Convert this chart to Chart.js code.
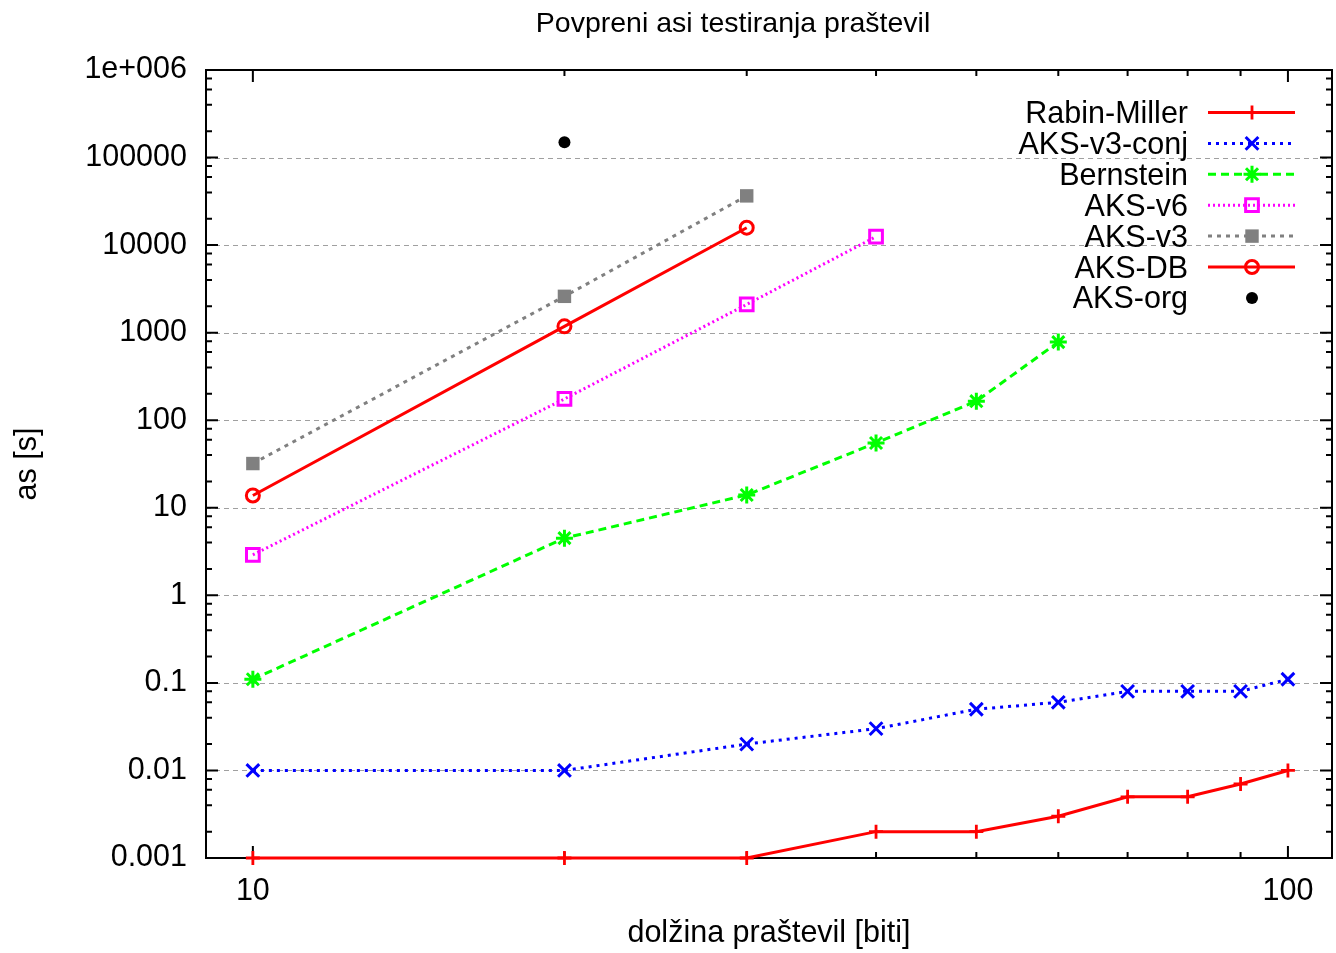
<!DOCTYPE html>
<html><head><meta charset="utf-8">
<script src="https://cdn.jsdelivr.net/npm/chart.js@4/dist/chart.umd.min.js"></script>
<style>html,body{margin:0;padding:0;background:#fff}#wrap{width:1336px;height:953px}</style>
</head><body><div id="wrap"><canvas id="c" width="1336" height="953"></canvas></div>
<script>
const chartTitle = 'Povpreni asi testiranja praštevil';
const xTitle = 'dolžina praštevil [biti]';
const yTitle = 'as [s]';

const bits = [10, 20, 30, 40, 50, 60, 70, 80, 90, 100];
const seriesNames = ['Rabin-Miller', 'AKS-v3-conj', 'Bernstein', 'AKS-v6', 'AKS-v3', 'AKS-DB', 'AKS-org'];
const rabinMiller = [0.001, 0.001, 0.001, 0.002, 0.002, 0.003, 0.005, 0.005, 0.007, 0.01];
const aksV3Conj  = [0.01, 0.01, 0.02, 0.03, 0.05, 0.06, 0.08, 0.08, 0.08, 0.11];
const bernstein  = [0.11, 4.5, 14, 55, 165, 780];
const aksV6      = [2.9, 175, 2100, 12500];
const aksV3      = [32, 2600, 36500];
const aksDB      = [13.8, 1180, 15800];
const aksOrgBits = [20];
const aksOrg     = [150000];

const xTickValues = [10, 100];
const xTickLabels = ['10', '100'];
const xMinorTicks = [20, 30, 40, 50, 60, 70, 80, 90];
const yTickValues = [0.001, 0.01, 0.1, 1, 10, 100, 1000, 10000, 100000, 1000000];
const yTickLabels = ['0.001', '0.01', '0.1', '1', '10', '100', '1000', '10000', '100000', '1e+006'];
const yMinorFactors = [2, 4, 6, 8];

const FONT = '"Liberation Sans", Arial, sans-serif';
const FS = 30.5;

function pts(xs, ys) { return ys.map((v, i) => ({x: xs[i], y: v})); }

const datasets = [
  {label: seriesNames[0], data: pts(bits, rabinMiller), borderColor: '#ff0000', backgroundColor: '#ff0000',
   borderWidth: 3, pointStyle: 'cross', pointRadius: 7, pointBorderWidth: 2.8, borderDash: []},
  {label: seriesNames[1], data: pts(bits, aksV3Conj), borderColor: '#0000ff', backgroundColor: '#0000ff',
   borderWidth: 3, pointStyle: 'crossRot', pointRadius: 9, pointBorderWidth: 3, borderDash: [3, 5]},
  {label: seriesNames[2], data: pts(bits, bernstein), borderColor: '#00ff00', backgroundColor: '#00ff00',
   borderWidth: 3, pointStyle: 'star', pointRadius: 8.5, pointBorderWidth: 3, borderDash: [8, 5]},
  {label: seriesNames[3], data: pts(bits, aksV6), borderColor: '#ff00ff', backgroundColor: 'rgba(0,0,0,0)',
   borderWidth: 3, pointStyle: 'rect', pointRadius: 9, pointBorderWidth: 3, borderDash: [2, 3]},
  {label: seriesNames[4], data: pts(bits, aksV3), borderColor: '#808080', backgroundColor: '#808080',
   borderWidth: 3, pointStyle: 'rect', pointRadius: 9.5, pointBorderWidth: 0, borderDash: [4, 5]},
  {label: seriesNames[5], data: pts(bits, aksDB), borderColor: '#ff0000', backgroundColor: 'rgba(0,0,0,0)',
   borderWidth: 3, pointStyle: 'circle', pointRadius: 6.5, pointBorderWidth: 3, borderDash: []},
  {label: seriesNames[6], data: pts(aksOrgBits, aksOrg), borderColor: '#000000', backgroundColor: '#000000',
   borderWidth: 3, pointStyle: 'circle', pointRadius: 6, pointBorderWidth: 0, showLine: false, borderDash: []}
];
datasets.forEach(d => { d.fill = false; d.clip = false; d.tension = 0;
  if (d.showLine === undefined) d.showLine = true;
  d.pointBorderColor = d.borderColor; d.pointBackgroundColor = d.backgroundColor; });

function drawMarker(ctx, ds, x, y) {
  ctx.save();
  ctx.setLineDash([]);
  ctx.strokeStyle = ds.pointBorderColor;
  ctx.fillStyle = ds.pointBackgroundColor;
  ctx.lineWidth = ds.pointBorderWidth;
  Chart.helpers.drawPoint(ctx, {pointStyle: ds.pointStyle, radius: ds.pointRadius, rotation: 0, borderWidth: ds.pointBorderWidth}, x, y);
  ctx.restore();
}

const gnuFrame = {
  id: 'gnuFrame',
  beforeDatasetsDraw(chart) {
    const ctx = chart.ctx, a = chart.chartArea;
    const xs = chart.scales.x, ys = chart.scales.y;
    ctx.save();
    ctx.strokeStyle = '#a0a0a0'; ctx.lineWidth = 1; ctx.setLineDash([5, 4]);
    yTickValues.forEach(v => {
      const y = Math.round(ys.getPixelForValue(v)) + 0.5;
      if (y <= a.top + 1 || y >= a.bottom - 1) return;
      ctx.beginPath(); ctx.moveTo(a.left, y); ctx.lineTo(a.right, y); ctx.stroke();
    });
    ctx.setLineDash([]);
    ctx.strokeStyle = '#000'; ctx.lineWidth = 2;
    yTickValues.forEach((v, i) => {
      const y = ys.getPixelForValue(v);
      ctx.beginPath(); ctx.moveTo(a.left, y); ctx.lineTo(a.left + 12, y);
      ctx.moveTo(a.right, y); ctx.lineTo(a.right - 12, y); ctx.stroke();
      if (i < yTickValues.length - 1) {
        yMinorFactors.forEach(f => {
          const ym = ys.getPixelForValue(v * f);
          ctx.beginPath(); ctx.moveTo(a.left, ym); ctx.lineTo(a.left + 6, ym);
          ctx.moveTo(a.right, ym); ctx.lineTo(a.right - 6, ym); ctx.stroke();
        });
      }
    });
    xTickValues.forEach(v => {
      const x = xs.getPixelForValue(v);
      ctx.beginPath(); ctx.moveTo(x, a.bottom); ctx.lineTo(x, a.bottom - 12);
      ctx.moveTo(x, a.top); ctx.lineTo(x, a.top + 12); ctx.stroke();
    });
    xMinorTicks.forEach(v => {
      const x = xs.getPixelForValue(v);
      ctx.beginPath(); ctx.moveTo(x, a.bottom); ctx.lineTo(x, a.bottom - 6);
      ctx.moveTo(x, a.top); ctx.lineTo(x, a.top + 6); ctx.stroke();
    });
    ctx.strokeRect(a.left, a.top, a.right - a.left, a.bottom - a.top);
    ctx.restore();
  },
  afterDraw(chart) {
    const ctx = chart.ctx;
    ctx.save();
    ctx.fillStyle = '#000';
    ctx.font = '28.5px ' + FONT;
    ctx.textAlign = 'center'; ctx.textBaseline = 'alphabetic';
    ctx.fillText(chartTitle, 733, 32);
    ctx.font = FS + 'px ' + FONT;
    ctx.textAlign = 'right';
    chart.data.datasets.forEach((ds, i) => {
      const yRow = 112.5 + i * 30.9;
      ctx.fillStyle = '#000';
      ctx.fillText(ds.label, 1188, yRow + 10.5);
      if (ds.showLine) {
        ctx.save();
        ctx.strokeStyle = ds.borderColor; ctx.lineWidth = ds.borderWidth;
        ctx.setLineDash(ds.borderDash || []);
        ctx.beginPath(); ctx.moveTo(1208, yRow); ctx.lineTo(1295, yRow); ctx.stroke();
        ctx.restore();
      }
      drawMarker(ctx, ds, 1252, yRow);
    });
    ctx.restore();
  }
};

new Chart(document.getElementById('c'), {
  type: 'scatter',
  data: {datasets},
  plugins: [gnuFrame],
  options: {
    responsive: false, animation: false, devicePixelRatio: 1,
    layout: {padding: {top: 70, right: 4, left: 0, bottom: 0}, autoPadding: false},
    plugins: {legend: {display: false}, tooltip: {enabled: false}, title: {display: false}},
    scales: {
      x: {
        type: 'logarithmic', position: 'bottom', min: 9.01, max: 110.3,
        afterBuildTicks: s => { s.ticks = xTickValues.map(v => ({value: v})); },
        afterFit: s => { s.height = 95; s.paddingLeft = 0; s.paddingRight = 0; },
        grid: {display: false}, border: {display: false},
        ticks: {autoSkip: false, maxRotation: 0, padding: 7, color: '#000',
          font: {family: FONT, size: FS},
          callback: (v, i) => xTickLabels[i]},
        title: {display: true, text: xTitle, color: '#000', font: {family: FONT, size: FS},
          padding: {top: 0, bottom: 1}}
      },
      y: {
        type: 'logarithmic', position: 'left', min: 0.001, max: 1000000,
        afterBuildTicks: s => { s.ticks = yTickValues.map(v => ({value: v})); },
        afterFit: s => { s.width = 206; s.paddingTop = 0; s.paddingBottom = 0; },
        grid: {display: false}, border: {display: false},
        ticks: {autoSkip: false, padding: 11, color: '#000',
          font: {family: FONT, size: FS},
          callback: (v, i) => yTickLabels[i]},
        title: {display: true, text: yTitle, color: '#000', font: {family: FONT, size: FS},
          padding: {top: 9, bottom: 0}}
      }
    }
  }
});
</script></body></html>
